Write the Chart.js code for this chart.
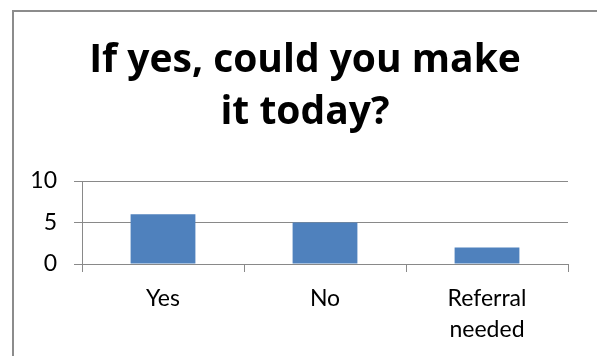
<!DOCTYPE html>
<html>
<head>
<meta charset="utf-8">
<script src="https://cdn.jsdelivr.net/npm/chart.js@4.4.1/dist/chart.umd.min.js"></script>
<style>
  html, body { margin: 0; padding: 0; background: #fff; overflow: hidden; }
  #wrap { position: relative; width: 597px; height: 356px; overflow: hidden; }
  #frame {
    position: absolute; left: 12px; top: 10px; width: 620px; height: 400px;
    border-left: 2px solid #8c8c8c; border-top: 2px solid #8c8c8c;
  }
  #chart { position: absolute; left: 0; top: 0; }
</style>
</head>
<body>
<div id="wrap">
  <div id="frame"></div>
  <canvas id="chart" width="597" height="356"></canvas>
</div>
<script>
const titleLines = ['If yes, could you make', 'it today?'];
const categories = ['Yes', 'No', ['Referral', 'needed']];
const counts = [6, 5, 2];
const yTicks = [0, 5, 10];

const gray = '#898989';
const ctx = document.getElementById('chart');

// title in the original sits centred over the frame, not over the canvas
const shiftTitle = {
  id: 'shiftTitle',
  afterLayout(chart) {
    if (chart.titleBlock) chart.titleBlock.left = 42;
  }
};

new Chart(ctx, {
  type: 'bar',
  data: {
    labels: categories,
    datasets: [{
      data: counts,
      backgroundColor: '#4f81bd',
      borderWidth: 0,
      barPercentage: 0.4,
      categoryPercentage: 1
    }]
  },
  options: {
    responsive: false,
    animation: false,
    layout: { padding: { left: 0, right: 29, top: 0, bottom: 0 } },
    plugins: {
      legend: { display: false },
      tooltip: { enabled: false },
      title: {
        display: true,
        text: titleLines,
        color: '#000',
        font: { family: 'Open Sans', weight: 'bold', size: 39, lineHeight: '52px' },
        padding: { top: 35, bottom: 42 }
      }
    },
    scales: {
      x: {
        grid: { drawOnChartArea: false, drawTicks: true, tickLength: 8, color: gray, offset: true },
        border: { color: gray, width: 1 },
        ticks: { color: '#000', padding: 11, font: { family: 'Lato', size: 23, lineHeight: 1.35 }, maxRotation: 0 },
        afterFit: (s) => { s.height = 92; }
      },
      y: {
        min: 0,
        max: 10,
        afterBuildTicks: (s) => { s.ticks = yTicks.map(v => ({ value: v })); },
        grid: { color: gray, tickLength: 8, drawTicks: true },
        border: { color: gray, width: 1 },
        ticks: { color: '#000', padding: 17, font: { family: 'Lato', size: 23 } },
        afterFit: (s) => { s.width = 82; }
      }
    }
  },
  plugins: [shiftTitle]
});
</script>
</body>
</html>
